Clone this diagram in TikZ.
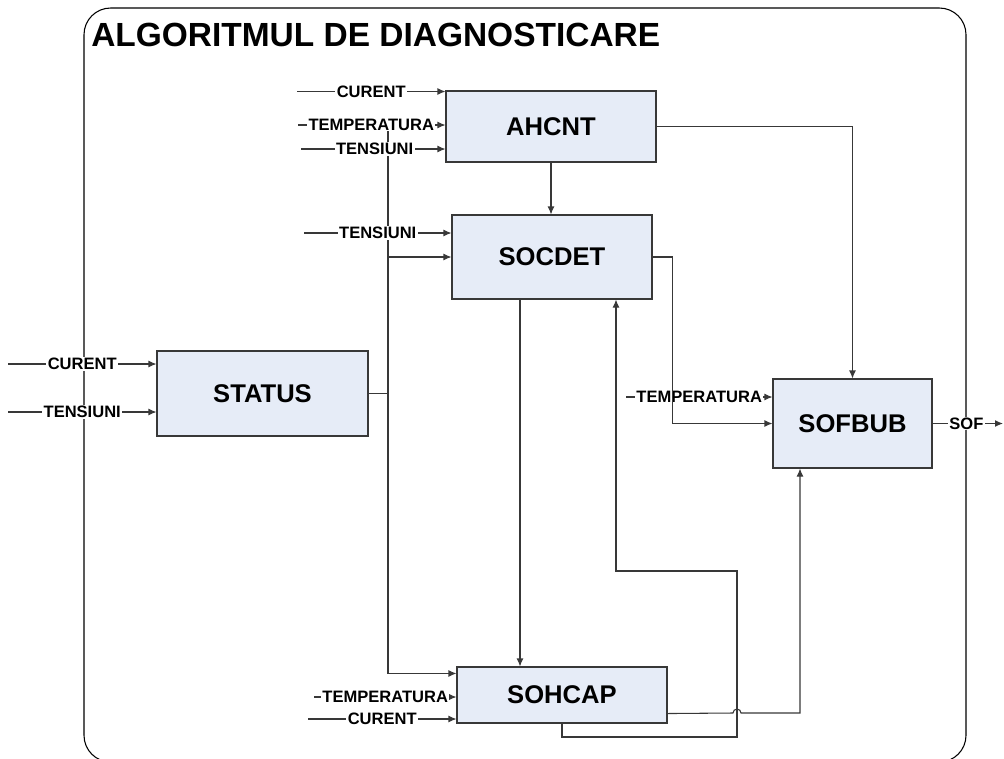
\documentclass[tikz,border=0pt]{standalone}
\usepackage{fontspec}
\setmainfont{Liberation Sans}
\usetikzlibrary{arrows.meta,calc}
\definecolor{boxfill}{RGB}{230,236,247}
\definecolor{lineclr}{RGB}{56,56,56}
\begin{document}
\begin{tikzpicture}[x=0.75pt,y=-0.75pt,
  blk/.style={draw=lineclr, fill=boxfill, line width=0.8pt, inner sep=0pt,
    font=\fontsize{19.2}{22}\selectfont\bfseries},
  conn/.style={draw=lineclr, line width=0.8pt},
  arr/.style={conn,-{Latex[length=6pt,width=5.2pt]}},
  lab/.style={fill=white, inner xsep=1pt, inner ysep=0.5pt,
    font=\fontsize{12.4}{14}\selectfont\bfseries},
  frame/.style={draw=black, line width=0.8pt, rounded corners=20},
]
\useasboundingbox (0,0) rectangle (1004,758);
\begin{scope}
  \clip (0,0) rectangle (1004,758);
  \draw[frame] (84,8) rectangle (966,762);
\end{scope}

\node[anchor=base west, inner sep=0pt, font=\fontsize{25.1}{28}\selectfont\bfseries]
  (title) at (91,46.5) {ALGORITMUL DE DIAGNOSTICARE};

% blocks
\node[blk, minimum width=157.5pt, minimum height=53.25pt] (ahcnt)  at (551,126.5) {AHCNT};
\node[blk, minimum width=150pt,   minimum height=63pt]    (socdet) at (552,257)   {SOCDET};
\node[blk, minimum width=158.25pt,minimum height=63.75pt] (status) at (262.5,393.5) {STATUS};
\node[blk, minimum width=119.25pt,minimum height=66.75pt] (sofbub) at (852.5,423.5) {SOFBUB};
\node[blk, minimum width=157.5pt, minimum height=42pt]    (sohcap) at (562,695)   {SOHCAP};

% free input ends
\coordinate (a1) at (297,91.5);
\coordinate (a2) at (298,125);
\coordinate (a3) at (301,149);
\coordinate (d1) at (304,233);
\coordinate (s1) at (8,364);
\coordinate (s2) at (8,412);
\coordinate (f1) at (626,397);
\coordinate (h1) at (314,697);
\coordinate (h2) at (308,719);
\coordinate (out) at (1003,423.5);

% STATUS distribution bus
\coordinate (j)  at (388,393.5);
\coordinate (jt) at (388,131);
\draw[conn] (status.east) -- (j);
\draw[conn] (j) -- (jt);
\draw[arr] (j |- socdet.west) -- (socdet.west);
\draw[arr] (j) |- ($(sohcap.north west)+(0,7)$);

% inputs
\draw[arr] (a1) -- node[lab,pos=0.5]{CURENT} (a1 -| ahcnt.west);
\draw[arr] (a2) -- node[lab,pos=0.497]{TEMPERATURA} (a2 -| ahcnt.west);
\draw[arr] (a3) -- node[lab,pos=0.51]{TENSIUNI} (a3 -| ahcnt.west);
\draw[arr] (d1) -- node[lab,pos=0.5]{TENSIUNI} (d1 -| socdet.west);
\draw[arr] (s1) -- node[lab,pos=0.5]{CURENT} (s1 -| status.west);
\draw[arr] (s2) -- node[lab,pos=0.5]{TENSIUNI} (s2 -| status.west);
\draw[arr] (f1) -- node[lab,pos=0.5]{TEMPERATURA} (f1 -| sofbub.west);
\draw[arr] (h1) -- node[lab,pos=0.5]{TEMPERATURA} (h1 -| sohcap.west);
\draw[arr] (h2) -- node[lab,pos=0.5]{CURENT} (h2 -| sohcap.west);
\draw[arr] (sofbub.east) -- node[lab,pos=0.48]{SOF} (out);

% block connections
\draw[arr] (ahcnt.east) -| (sofbub.north);
\draw[arr] (ahcnt.south) -- (ahcnt.south |- socdet.north);
\draw[arr] (socdet.east) -- ++(20,0) |- (sofbub.west);
\coordinate (c1) at (520,0);
\draw[arr] (socdet.south -| c1) -- (sohcap.north -| c1);

% feedback SOHCAP -> SOCDET
\coordinate (fb) at (616,571);
\draw[arr] (sohcap.south) |- (737,737) -- (737,571) -- (fb) -- (fb |- socdet.south);

% SOHCAP -> SOFBUB with line jump
\coordinate (c2) at (800,0);
\draw[arr] ($(sohcap.south east)+(0,-10)$) -- (733,713) arc (180:360:4) -- (800,713) -- (sofbub.south -| c2);
\end{tikzpicture}
\end{document}
